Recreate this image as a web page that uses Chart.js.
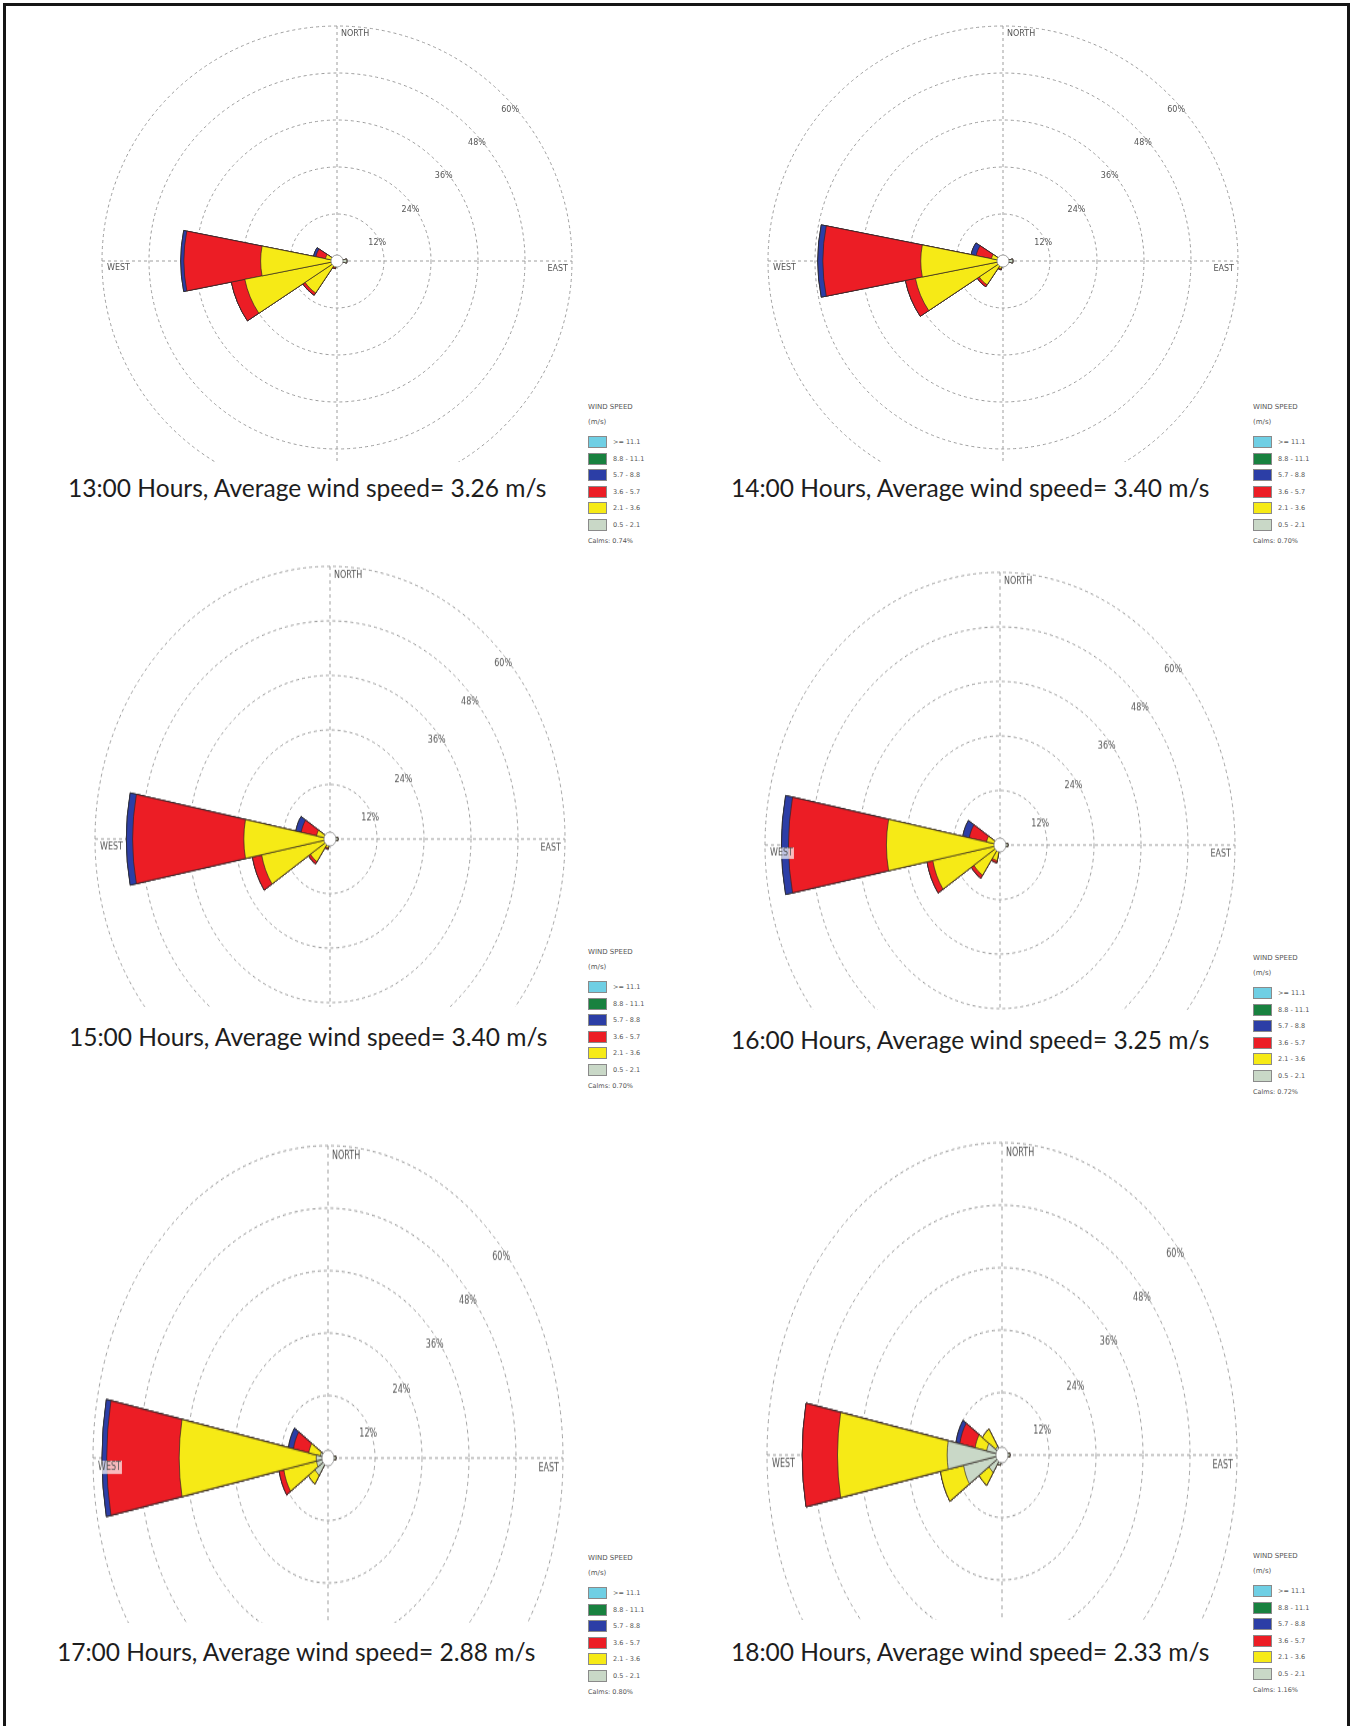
<!DOCTYPE html>
<html>
<head>
<meta charset="utf-8">
<script src="https://cdn.jsdelivr.net/npm/chart.js@4/dist/chart.umd.min.js"></script>
<style>
  html, body { margin: 0; padding: 0; background: #fff; }
  body { width: 1356px; height: 1726px; position: relative; overflow: hidden; }
  .frame { position: absolute; left: 3px; top: 3px; width: 1347px; height: 1800px; border: 3px solid #161616; box-sizing: border-box; }
  .clip { position: absolute; overflow: hidden; }
  .clip canvas { position: absolute; }
  .title { position: absolute; white-space: nowrap; color: #1d1d1d; line-height: 1; font-family: Lato, "Open Sans", sans-serif; }
  .legend { position: absolute; font-family: "DejaVu Sans", sans-serif; color: #555; }
  .legend .hd { position: absolute; left: 0; font-size: 7px; white-space: nowrap; }
  .legend .sw { position: absolute; left: 0; width: 19px; height: 12px; box-sizing: border-box; border: 1px solid #8a8a8a; }
  .legend .lb { position: absolute; left: 25px; font-size: 6.5px; white-space: nowrap; }
  .legend .cm { position: absolute; left: 0; font-size: 6.5px; white-space: nowrap; }
</style>
</head>
<body>
<div class="frame"></div>
<script>
// 16 compass sectors, clockwise from north
const DIRECTIONS = ['N','NNE','NE','ENE','E','ESE','SE','SSE','S','SSW','SW','WSW','W','WNW','NW','NNW'];
// wind speed classes (m/s), legend order
const SPEED_CLASSES = ['>= 11.1', '8.8 - 11.1', '5.7 - 8.8', '3.6 - 5.7', '2.1 - 3.6', '0.5 - 2.1'];
const CLASS_COLORS = ['#6fcfe4', '#18813f', '#2c3ea6', '#ec1d25', '#f6ea16', '#c9d8c7'];
const RING_TICKS = [12, 24, 36, 48, 60];
const HOURS = ['13:00', '14:00', '15:00', '16:00', '17:00', '18:00'];
const AVG_SPEED = ['3.26', '3.40', '3.40', '3.25', '2.88', '2.33'];
const CALMS = ['0.74%', '0.70%', '0.70%', '0.72%', '0.80%', '1.16%'];

// frequency (%) by direction for each speed class
//                 N  NNE NE ENE  E  ESE SE SSE S  SSW  SW   WSW   W    WNW  NW NNW
const ZERO      = [0, 0, 0, 0, 0,   0, 0, 0, 0, 0,   0,   0,    0,    0,   0, 0];
const h13_05_21 = [0, 0, 0, 0, 2.5, 0, 0, 0, 0, 0.5, 0.8, 1.0,  1.0,  0.5, 0, 0];
const h13_21_36 = [0, 0, 0, 0, 0,   0, 0, 0, 0, 1.2, 9.0, 23.0, 18.5, 2.5, 0, 0];
const h13_36_57 = [0, 0, 0, 0, 0,   0, 0, 0, 0, 0.3, 0.7, 3.5,  19.6, 2.5, 0, 0];
const h13_57_88 = [0, 0, 0, 0, 0,   0, 0, 0, 0, 0,   0,   0,    0.8,  0.6, 0, 0];

const h14_05_21 = [0, 0, 0, 0, 2.5, 0, 0, 0, 0, 0.5, 0.8, 1.0,  1.0,  0.5, 0, 0];
const h14_21_36 = [0, 0, 0, 0, 0,   0, 0, 0, 0, 1.5, 6.5, 21.8, 20.0, 2.5, 0, 0];
const h14_36_57 = [0, 0, 0, 0, 0,   0, 0, 0, 0, 0.3, 0.6, 2.6,  25.0, 4.0, 0, 0];
const h14_57_88 = [0, 0, 0, 0, 0,   0, 0, 0, 0, 0,   0,   0,    1.3,  1.3, 0, 0];

const h15_05_21 = [0, 0, 0, 0, 2.0, 0, 0, 0, 0, 0.5, 0.6, 1.0,  1.0,  0.5, 0, 0];
const h15_21_36 = [0, 0, 0, 0, 0,   0, 0, 0, 0, 1.5, 5.4, 16.8, 21.0, 3.0, 0, 0];
const h15_36_57 = [0, 0, 0, 0, 0,   0, 0, 0, 0, 0.3, 0.6, 2.4,  28.4, 4.0, 0, 0];
const h15_57_88 = [0, 0, 0, 0, 0,   0, 0, 0, 0, 0,   0,   0,    1.6,  1.4, 0, 0];

const h16_05_21 = [0, 0, 0, 0, 2.0, 0, 0, 0, 0, 0.5, 0.8, 1.0,  1.0,  0.5, 0, 0];
const h16_21_36 = [0, 0, 0, 0, 0,   0, 0, 0, 0, 3.0, 7.2, 16.5, 28.0, 3.0, 0, 0];
const h16_36_57 = [0, 0, 0, 0, 0,   0, 0, 0, 0, 0.5, 0.8, 1.5,  25.0, 4.5, 0, 0];
const h16_57_88 = [0, 0, 0, 0, 0,   0, 0, 0, 0, 0,   0,   0,    1.8,  1.7, 0, 0];

const h17_05_21 = [0, 0, 0, 0, 2.0, 0, 0, 0, 0, 1.0, 4.0, 3.0,  3.0,  2.0, 0, 0];
const h17_21_36 = [0, 0, 0, 0, 0,   0, 0, 0, 0, 0,   2.0, 8.5,  35.0, 3.0, 0, 0];
const h17_36_57 = [0, 0, 0, 0, 0,   0, 0, 0, 0, 0,   0,   1.2,  18.5, 4.0, 0, 0];
const h17_57_88 = [0, 0, 0, 0, 0,   0, 0, 0, 0, 0,   0,   0,    1.2,  1.3, 0, 0];

const h18_05_21 = [0, 0, 0, 0, 2.0, 0, 0, 0, 0, 2.0, 4.0, 10.0, 14.0, 4.0, 2.0, 0];
const h18_21_36 = [0, 0, 0, 0, 0,   0, 0, 0, 0, 0,   3.0, 6.0,  28.0, 3.0, 4.0, 0];
const h18_36_57 = [0, 0, 0, 0, 0,   0, 0, 0, 0, 0,   0,   0,    9.0,  4.0, 0, 0];
const h18_57_88 = [0, 0, 0, 0, 0,   0, 0, 0, 0, 0,   0,   0,    0,    1.0, 0, 0];

// per hour: class arrays ordered slowest -> fastest
const ROSE_DATA = [
  [h13_05_21, h13_21_36, h13_36_57, h13_57_88, ZERO, ZERO],
  [h14_05_21, h14_21_36, h14_36_57, h14_57_88, ZERO, ZERO],
  [h15_05_21, h15_21_36, h15_36_57, h15_57_88, ZERO, ZERO],
  [h16_05_21, h16_21_36, h16_36_57, h16_57_88, ZERO, ZERO],
  [h17_05_21, h17_21_36, h17_36_57, h17_57_88, ZERO, ZERO],
  [h18_05_21, h18_21_36, h18_36_57, h18_57_88, ZERO, ZERO]
];

// panel placement on the page: rose centre, 60% radius, vertical stretch, clip bottom, caption, legend
const PANELS = [
  { cx: 337,  cy: 261,  r: 235, k: 1.00, clipBottom: 462,  titleX: 68,  titleBase: 498,  legX: 588,  legY: 407 },
  { cx: 1003, cy: 261,  r: 235, k: 1.00, clipBottom: 462,  titleX: 731, titleBase: 498,  legX: 1253, legY: 407 },
  { cx: 330,  cy: 839,  r: 235, k: 1.16, clipBottom: 1007, titleX: 69,  titleBase: 1047, legX: 588,  legY: 952 },
  { cx: 1000, cy: 845,  r: 235, k: 1.16, clipBottom: 1010, titleX: 731, titleBase: 1050, legX: 1253, legY: 958 },
  { cx: 328,  cy: 1458, r: 235, k: 1.33, clipBottom: 1623, titleX: 57,  titleBase: 1662, legX: 588,  legY: 1558 },
  { cx: 1002, cy: 1455, r: 235, k: 1.33, clipBottom: 1620, titleX: 731, titleBase: 1662, legX: 1253, legY: 1556 }
];

const GRID_COLOR = '#9d9d9d';

// label with a pale backdrop so it stays legible over petals
function boxedText(ctx, txt, x, y, align) {
  const w = ctx.measureText(txt).width;
  const left = align === 'right' ? x - w : x;
  ctx.fillStyle = 'rgba(255,255,255,0.7)';
  ctx.fillRect(left - 1, y - 5, w + 2, 10);
  ctx.fillStyle = '#555';
  ctx.textAlign = align;
  ctx.fillText(txt, x, y);
}

// dashed compass cross, ring labels, direction labels, white calm circle
const roseDecor = {
  id: 'roseDecor',
  beforeDatasetsDraw(chart) {
    const s = chart.scales.r, ctx = chart.ctx;
    const cx = s.xCenter, cy = s.yCenter, R = s.drawingArea;
    ctx.save();
    ctx.strokeStyle = GRID_COLOR;
    ctx.lineWidth = 1;
    ctx.setLineDash([3, 3]);
    ctx.beginPath();
    ctx.moveTo(cx - R, cy); ctx.lineTo(cx + R, cy);
    ctx.moveTo(cx, cy - R); ctx.lineTo(cx, cy + R);
    ctx.stroke();
    ctx.setLineDash([]);
    ctx.fillStyle = '#555';
    ctx.font = '8px "DejaVu Sans"';
    ctx.textBaseline = 'middle';
    ctx.textAlign = 'center';
    RING_TICKS.forEach(v => {
      const d = s.getDistanceFromCenterForValue(v) * Math.SQRT1_2;
      ctx.fillText(v + '%', cx + d + 7, cy - d + 15);
    });
    ctx.restore();
  },
  afterDatasetsDraw(chart) {
    const s = chart.scales.r, ctx = chart.ctx;
    const cx = s.xCenter, cy = s.yCenter, R = s.drawingArea;
    ctx.save();
    ctx.beginPath();
    ctx.arc(cx, cy, 6, 0, Math.PI * 2);
    ctx.fillStyle = '#fff';
    ctx.fill();
    ctx.lineWidth = 0.8;
    ctx.strokeStyle = '#8a8a8a';
    ctx.stroke();
    ctx.font = '8px "DejaVu Sans"';
    ctx.textBaseline = 'middle';
    boxedText(ctx, 'NORTH', cx + 4, cy - R + 8, 'left');
    boxedText(ctx, 'WEST', cx - R + 5, cy + 7, 'left');
    boxedText(ctx, 'EAST', cx + R - 4, cy + 8, 'right');
    ctx.restore();
  }
};

// caption font size: fit the first caption to its measured width
const measure = document.createElement('canvas').getContext('2d');
measure.font = '100px Lato';
const capW = measure.measureText(HOURS[0] + ' Hours, Average wind speed= ' + AVG_SPEED[0] + ' m/s').width;
const CAPTION_SIZE = 100 * 480 / capW;

PANELS.forEach((p, idx) => {
  const W = 2 * p.r + 4;
  const H = W * p.k;
  const clipTop = Math.round(p.cy - p.r * p.k - 6);
  const clipLeft = Math.round(p.cx - p.r - 8);
  const clip = document.createElement('div');
  clip.className = 'clip';
  clip.style.left = clipLeft + 'px';
  clip.style.top = clipTop + 'px';
  clip.style.width = (2 * p.r + 16) + 'px';
  clip.style.height = (p.clipBottom - clipTop) + 'px';
  const cv = document.createElement('canvas');
  cv.width = W; cv.height = W;
  cv.style.width = W + 'px';
  cv.style.height = H + 'px';
  cv.style.left = (p.cx - W / 2 - clipLeft) + 'px';
  cv.style.top = (p.cy - H / 2 - clipTop) + 'px';
  clip.appendChild(cv);
  document.body.appendChild(clip);

  // stack classes: each ring drawn out to its cumulative frequency
  const classes = ROSE_DATA[idx];
  const running = DIRECTIONS.map(() => 0);
  const colorsSlowFirst = CLASS_COLORS.slice().reverse();
  const datasets = classes.map((arr, ci) => {
    arr.forEach((v, i) => { running[i] += v; });
    return {
      label: SPEED_CLASSES[SPEED_CLASSES.length - 1 - ci],
      data: running.slice(),
      backgroundColor: colorsSlowFirst[ci],
      borderColor: 'rgba(45,35,35,0.85)',
      borderWidth: 0.8
    };
  });

  new Chart(cv, {
    type: 'polarArea',
    data: { labels: DIRECTIONS, datasets },
    options: {
      responsive: false,
      animation: false,
      devicePixelRatio: 1,
      layout: { padding: 2 },
      plugins: { legend: { display: false }, tooltip: { enabled: false } },
      scales: {
        r: {
          min: 0, max: 60,
          startAngle: -11.25,
          ticks: { display: false, stepSize: 12 },
          grid: { circular: true, color: GRID_COLOR, lineWidth: 1 },
          border: { dash: [3, 3] },
          angleLines: { display: false },
          pointLabels: { display: false }
        }
      }
    },
    plugins: [roseDecor]
  });

  // caption
  const t = document.createElement('div');
  t.className = 'title';
  t.style.fontSize = CAPTION_SIZE + 'px';
  t.style.left = p.titleX + 'px';
  t.style.top = (p.titleBase - 0.887 * CAPTION_SIZE) + 'px';
  t.textContent = HOURS[idx] + ' Hours, Average wind speed= ' + AVG_SPEED[idx] + ' m/s';
  document.body.appendChild(t);

  // legend
  const lg = document.createElement('div');
  lg.className = 'legend';
  lg.style.left = p.legX + 'px';
  lg.style.top = p.legY + 'px';
  const hd = document.createElement('div');
  hd.className = 'hd'; hd.style.top = '-4px'; hd.textContent = 'WIND SPEED';
  const un = document.createElement('div');
  un.className = 'hd'; un.style.top = '11px'; un.textContent = '(m/s)';
  lg.appendChild(hd); lg.appendChild(un);
  SPEED_CLASSES.forEach((c, i) => {
    const y = 35 + 16.5 * i;
    const sw = document.createElement('div');
    sw.className = 'sw'; sw.style.top = (y - 6) + 'px'; sw.style.background = CLASS_COLORS[i];
    const lb = document.createElement('div');
    lb.className = 'lb'; lb.style.top = (y - 4) + 'px'; lb.textContent = c;
    lg.appendChild(sw); lg.appendChild(lb);
  });
  const cm = document.createElement('div');
  cm.className = 'cm'; cm.style.top = '130px'; cm.textContent = 'Calms: ' + CALMS[idx];
  lg.appendChild(cm);
  document.body.appendChild(lg);
});
</script>
</body>
</html>
